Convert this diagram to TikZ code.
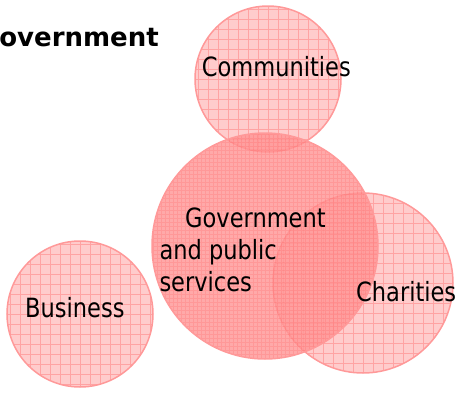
\documentclass[tikz,border=0pt]{standalone}
\usepackage{fontspec}
\setmainfont{DejaVu Sans}[FakeStretch=0.85]
\newfontfamily\titlefont{DejaVu Sans}
\usepackage{tikz}

\definecolor{ringline}{HTML}{FF9999}

\tikzset{
	bubble/.style={circle, draw=ringline, line width=1.5pt, fill=red, fill opacity=0.2, inner sep=0pt,
		path picture={\draw[red, opacity=0.2, line width=0.8pt, step=10pt] (path picture bounding box.south west) grid (path picture bounding box.north east);}},
	densebubble/.style={circle, draw=ringline, line width=1.5pt, fill=red!42, fill opacity=0.8, inner sep=0pt,
		path picture={\draw[red, opacity=0.1, line width=0.6pt, step=4pt] (path picture bounding box.south west) grid (path picture bounding box.north east);}},
	tag/.style={inner sep=0pt, anchor=base west, font=\fontsize{26.5}{32}\selectfont}
}

\begin{document}
\begin{tikzpicture}[x=1pt, y=-1pt]

	\useasboundingbox (0,0) rectangle (459,392);

	\node[bubble, minimum size=146pt] (business) at (80,314) {};
	\node[bubble, minimum size=146pt] (communities) at (268,79) {};
	\node[bubble, minimum size=180pt] (charities) at (363,283) {};
	\node[densebubble, minimum size=226pt] (government) at (265,246) {};

	\node[inner sep=0pt, anchor=base east] (title) at (159,46.7) {\titlefont\bfseries\fontsize{26}{30}\selectfont Government};

	\node[tag] (communitieslabel) at (201.7,76.7) {Communities};
	\node[tag, align=left] (governmentlabel) at (159.3,291) {\hspace*{25.7pt}Government\\and public\\services};
	\node[tag] (charitieslabel) at (356,301.7) {Charities};
	\node[tag] (businesslabel) at (25,317.7) {Business};

\end{tikzpicture}
\end{document}
